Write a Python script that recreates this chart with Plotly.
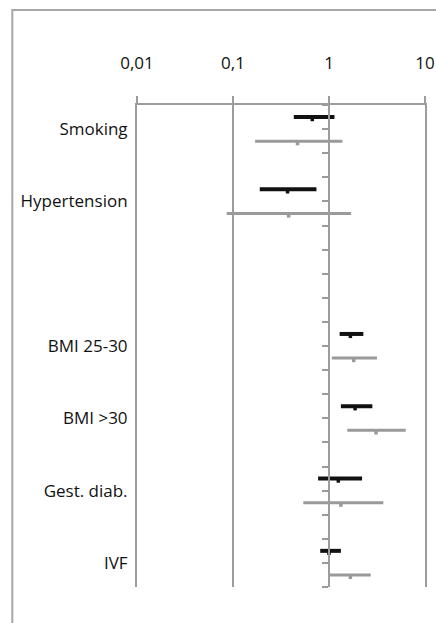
import plotly.graph_objects as go

# ---- data -----------------------------------------------------------
categories = ["Smoking", "Hypertension", "", "BMI 25-30", "BMI >30", "Gest. diab.", "IVF"]

black_low = [0.43, 0.19, None, 1.29, 1.33, 0.77, 0.81]
black_est = [0.67, 0.37, None, 1.67, 1.87, 1.25, 1.00]
black_high = [1.14, 0.74, None, 2.28, 2.83, 2.21, 1.33]

gray_low = [0.17, 0.086, None, 1.07, 1.55, 0.54, 1.02]
gray_est = [0.47, 0.38, None, 1.81, 3.09, 1.33, 1.67]
gray_high = [1.38, 1.70, None, 3.16, 6.3, 3.68, 2.72]

x_tickvals = [0.01, 0.1, 1, 10]
x_ticktext = ["0,01", "0,1", "1", "10"]

# ---- layout helpers ---------------------------------------------------
ROWS_PER_GROUP = 3
n_slots = ROWS_PER_GROUP * len(categories) - 1
GRID = "#9c9c9c"
FONT = "Open Sans"


def segs(lows, highs, offset):
    xs, ys = [], []
    for g, (lo, hi) in enumerate(zip(lows, highs)):
        if lo is None:
            continue
        y = g * ROWS_PER_GROUP + offset
        xs += [lo, hi, None]
        ys += [y, y, None]
    return xs, ys


def pts(est, offset):
    xs, ys = [], []
    for g, v in enumerate(est):
        if v is None:
            continue
        xs.append(v)
        ys.append(g * ROWS_PER_GROUP + offset + 0.1)
    return xs, ys


fig = go.Figure()

for lows, highs, est, off, col, w in [
    (gray_low, gray_high, gray_est, 1.5, "#9a9a9a", 3),
    (black_low, black_high, black_est, 0.5, "#111111", 4),
]:
    sx, sy = segs(lows, highs, off)
    fig.add_trace(go.Scatter(x=sx, y=sy, mode="lines",
                             line=dict(color=col, width=w),
                             hoverinfo="skip", showlegend=False))
    px_, py_ = pts(est, off)
    fig.add_trace(go.Scatter(x=px_, y=py_, mode="markers",
                             marker=dict(color=col, size=3.5, symbol="square"),
                             showlegend=False))

label_pos = [g * ROWS_PER_GROUP + 1 for g, c in enumerate(categories) if c]
label_txt = [c for c in categories if c]

fig.update_layout(
    width=436, height=623,
    margin=dict(l=137, r=10.5, t=105, b=36, autoexpand=False),
    paper_bgcolor="white", plot_bgcolor="white",
    font=dict(family=FONT, size=17, color="#111111"),
    xaxis=dict(
        type="log", range=[-2, 1], side="top", automargin=False,
        tickvals=x_tickvals, ticktext=x_ticktext,
        ticks="outside", ticklen=7, tickwidth=2, tickcolor=GRID,
        ticklabelstandoff=20,
        showline=True, linecolor=GRID, linewidth=2,
        showgrid=True, gridcolor=GRID, gridwidth=2,
        zeroline=False,
        tickfont=dict(family=FONT, size=17, color="#111111"),
    ),
    yaxis=dict(
        range=[n_slots, 0], automargin=False,
        tickvals=label_pos, ticktext=label_txt,
        ticks="", ticklabelstandoff=4,
        showline=True, mirror=True, linecolor=GRID, linewidth=2,
        showgrid=False, zeroline=False,
        tickfont=dict(family=FONT, size=17, color="#111111"),
    ),
    yaxis2=dict(
        overlaying="y", anchor="free", position=2 / 3, side="left",
        range=[n_slots, 0], automargin=False,
        tickvals=list(range(0, n_slots + 1)),
        ticks="outside", ticklen=6, tickwidth=2, tickcolor=GRID,
        showticklabels=False, showgrid=False, zeroline=False,
        showline=True, linecolor=GRID, linewidth=2,
    ),
    shapes=[dict(type="rect", xref="paper", yref="paper",
                 x0=-0.433, x1=1.2, y0=-0.2, y1=1.197,
                 line=dict(color="#a6a6a6", width=2), layer="below")],
)

# dummy trace to activate yaxis2
fig.add_trace(go.Scatter(x=[1], y=[0], yaxis="y2", mode="markers",
                         marker=dict(opacity=0), hoverinfo="skip", showlegend=False))

fig.write_html("out.html", config={"displayModeBar": False},
               post_script="document.body.style.margin='0';document.body.style.overflow='hidden';")
